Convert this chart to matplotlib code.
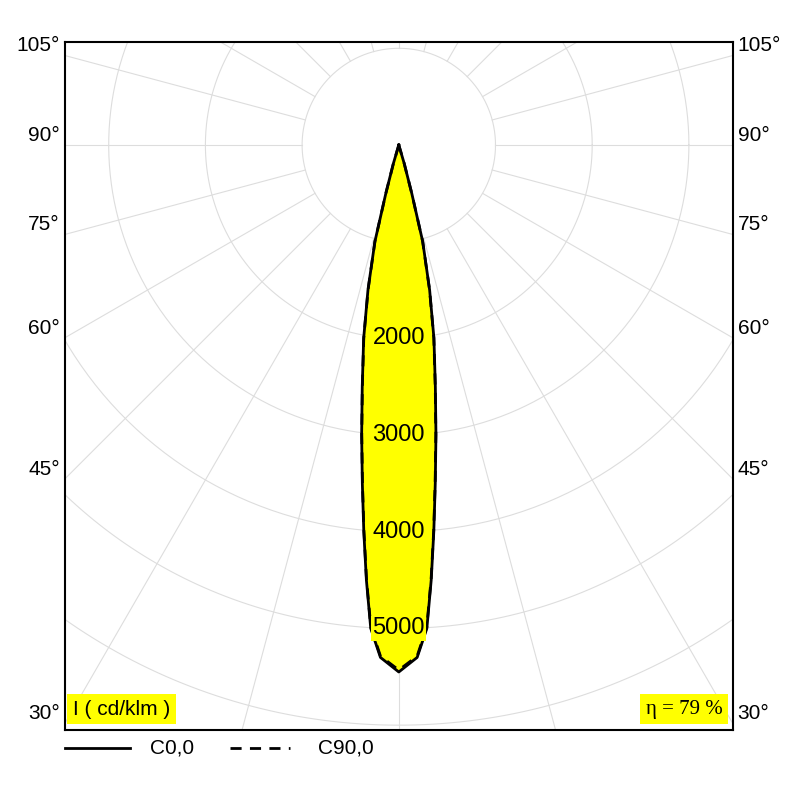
import numpy as np
import matplotlib.pyplot as plt

plt.rcParams['font.family'] = ['Liberation Sans', 'DejaVu Sans']

# intensity (cd/klm) vs angle from nadir (deg)
angles = [0, 2.05, 3.32, 4.26, 5.17, 6.15, 7.3, 8.6, 10.3, 12.0, 13.9, 15.0, 16.3, 17.5]
c0 = [5450, 5303, 5008, 4512, 4016, 3520, 3024, 2528, 2032, 1534, 1030, 518, 200, 0]
c90 = [5430, 5290, 4995, 4500, 4005, 3510, 3015, 2520, 2025, 1528, 1025, 515, 198, 0]
ring_labels = [2000, 3000, 4000, 5000]
side_angles = [30, 45, 60, 75, 90, 105]
eta = 79

fig = plt.figure(figsize=(8, 8), dpi=100)
ax = fig.add_axes([0.081, 0.0875, 0.835, 0.86])
xmax = 3454
ax.set_xlim(-xmax, xmax)
ax.set_ylim(-6050, 1065)

# grid
t = np.linspace(0, 2 * np.pi, 400)
for r in range(1000, 10001, 1000):
    ax.plot(r * np.cos(t), r * np.sin(t), color='#dddddd', lw=0.8, zorder=1)
for a in range(0, 360, 15):
    rad = np.radians(a)
    ax.plot([1000 * np.sin(rad), 12000 * np.sin(rad)],
            [-1000 * np.cos(rad), -12000 * np.cos(rad)], color='#dddddd', lw=0.8, zorder=1)


def curve(vals):
    th = np.radians(np.array(angles))
    v = np.array(vals)
    th = np.concatenate([-th[::-1], th[1:]])
    v = np.concatenate([v[::-1], v[1:]])
    return v * np.sin(th), -v * np.cos(th)


x0, y0 = curve(c0)
x9, y9 = curve(c90)
ax.fill(x0, y0, color='#ffff00', zorder=2)
ax.plot(x0, y0, color='black', lw=2, zorder=3)
ax.plot(x9, y9, color='black', lw=2, ls=(0, (4, 3)), zorder=3)

for r in ring_labels:
    bb = dict(facecolor='#ffff00', edgecolor='none', pad=1) if r == 5000 else None
    ax.text(0, -r, str(r), ha='center', va='center', fontsize=17, zorder=4, bbox=bb)

ax.set_xticks([])
ax.set_yticks([])
for s in ax.spines.values():
    s.set_linewidth(1.5)

# side angle labels
for a in side_angles:
    y = -xmax / np.tan(np.radians(a)) if a != 90 else 0
    ax.text(-xmax - 50, y + 100, f'{a}°', ha='right', va='center', fontsize=15, clip_on=False)
    ax.text(xmax + 50, y + 100, f'{a}°', ha='left', va='center', fontsize=15, clip_on=False)

ax.text(0.012, 0.03, 'I ( cd/klm )', transform=ax.transAxes, fontsize=15, va='center', ha='left',
        bbox=dict(facecolor='#ffff00', edgecolor='none', pad=4))
ax.text(0.985, 0.03, f'η = {eta} %', transform=ax.transAxes, fontsize=15, va='center', ha='right',
        family=['Liberation Serif', 'DejaVu Serif'], bbox=dict(facecolor='#ffff00', edgecolor='none', pad=4))

# legend
fig.add_artist(plt.Line2D([0.081, 0.163], [0.065, 0.065], color='black', lw=2))
fig.text(0.187, 0.065, 'C0,0', fontsize=15, va='center')
fig.add_artist(plt.Line2D([0.288, 0.363], [0.065, 0.065], color='black', lw=2, ls=(0, (4, 3))))
fig.text(0.397, 0.065, 'C90,0', fontsize=15, va='center')

fig.savefig('out.png', dpi=100)
